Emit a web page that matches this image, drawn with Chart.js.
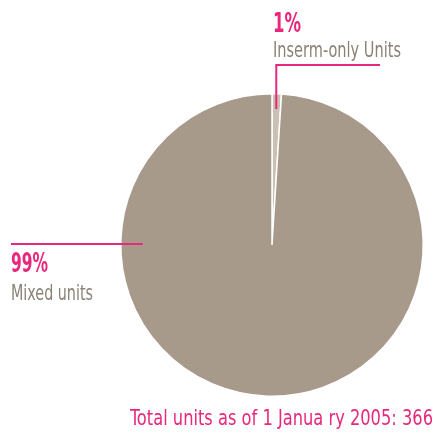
<!DOCTYPE html>
<html>
<head>
  <title>Units pie</title>
  <meta name="viewport" content="width=device-width, initial-scale=1">
  <script src="https://cdn.jsdelivr.net/npm/chart.js"></script>
  <style>
    html, body { margin: 0; padding: 0; background: #fff; }
    #wrap { width: 436px; height: 433px; }
  </style>
</head>
<body>
  <div id="wrap"><canvas id="myChart" width="436" height="433"></canvas></div>
  <script>
    // data
    var categories = ['Inserm-only Units', 'Mixed units'];
    var values = [1, 99];
    var pctLabels = ['1%', '99%'];
    var sliceColors = ['#cbc0b4', '#a89a8a'];
    var totalText = 'Total units as of 1 Janua ry 2005: 366';

    var pink = '#e8287c';
    var grey = '#8a8275';
    var FONT = '"Liberation Sans Narrow", "DejaVu Sans Condensed", "Roboto", sans-serif';

    // draw text squeezed to a given width (condensed look)
    function fitText(ctx, txt, x, y, w, font, color) {
      ctx.save();
      ctx.font = font;
      ctx.fillStyle = color;
      ctx.textBaseline = 'alphabetic';
      ctx.textAlign = 'left';
      var mw = ctx.measureText(txt).width;
      ctx.translate(x, y);
      ctx.scale(w / mw, 1);
      ctx.fillText(txt, 0, 0);
      ctx.restore();
    }

    var callouts = {
      id: 'callouts',
      afterDraw: function(chart) {
        var ctx = chart.ctx;
        var arcs = chart.getDatasetMeta(0).data;
        ctx.save();
        ctx.strokeStyle = pink;
        ctx.lineWidth = 2;

        // small slice: elbow line from inside the slice
        var a = arcs[0];
        var mid = (a.startAngle + a.endAngle) / 2;
        var ax = a.x + Math.cos(mid) * a.outerRadius * 0.9;
        var ay = a.y + Math.sin(mid) * a.outerRadius * 0.9;
        ctx.beginPath();
        ctx.moveTo(ax, ay);
        ctx.lineTo(ax, 65);
        ctx.lineTo(380, 65);
        ctx.stroke();

        // big slice: horizontal line into the left of the pie
        var b = arcs[1];
        ctx.beginPath();
        ctx.moveTo(11, 244);
        ctx.lineTo(b.x - b.outerRadius + 22, 244);
        ctx.stroke();
        ctx.restore();

        fitText(ctx, pctLabels[0], 273, 32, 28, '600 26px ' + FONT, pink);
        fitText(ctx, categories[0], 273, 57, 128, '21px ' + FONT, grey);
        fitText(ctx, pctLabels[1], 11, 272, 37, '600 26px ' + FONT, pink);
        fitText(ctx, categories[1], 11, 300, 82, '21px ' + FONT, grey);
        fitText(ctx, totalText, 130, 425, 303, '21px ' + FONT, pink);
      }
    };

    var ctx = document.getElementById('myChart');
    var chart = new Chart(ctx, {
      type: 'pie',
      data: {
        labels: categories,
        datasets: [{
          data: values,
          backgroundColor: sliceColors,
          borderColor: '#ffffff',
          borderWidth: 1.5
        }]
      },
      options: {
        responsive: false,
        animation: false,
        layout: { padding: { left: 120, right: 12, top: 93, bottom: 36 } },
        plugins: {
          legend: { display: false },
          tooltip: { enabled: false }
        }
      },
      plugins: [callouts]
    });
  </script>
</body>
</html>
